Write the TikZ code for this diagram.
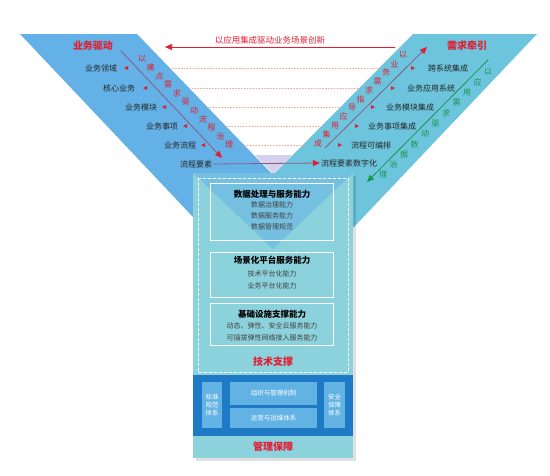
\documentclass[tikz,border=0pt]{standalone}
\usepackage{fontspec}
\setmainfont{Noto Sans CJK SC}
\usetikzlibrary{arrows.meta}
\definecolor{armL}{RGB}{99,177,230}
\definecolor{armR}{RGB}{108,196,221}
\definecolor{colT}{RGB}{140,210,220}
\definecolor{bandB}{RGB}{30,122,196}
\definecolor{boxB}{RGB}{98,178,228}
\definecolor{redT}{RGB}{226,30,50}
\definecolor{greenT}{RGB}{25,150,75}
\definecolor{mauve}{RGB}{140,90,130}
\definecolor{dotC}{RGB}{240,165,145}
\definecolor{lav}{RGB}{212,208,238}
\begin{document}
\begin{tikzpicture}[x=1pt,y=-1pt, line join=round, line cap=round,
    item/.style={font=\fontsize{8}{9}\selectfont, inner sep=1pt, text=black!85},
    head/.style={font=\fontsize{10}{11}\selectfont\bfseries, text=redT, inner sep=1pt},
    slant/.style={font=\fontsize{8}{9}\selectfont, inner sep=0pt},
    capbox/.style={draw=white, line width=.6pt, minimum width=123pt},
    title/.style={font=\fontsize{8.5}{9}\selectfont\bfseries, inner sep=1pt},
    sub/.style={font=\fontsize{7}{8}\selectfont, inner sep=1pt, text=black!75},
    wbox/.style={fill=boxB, text=white, font=\fontsize{6.5}{8}\selectfont, align=center, inner sep=0pt},
    tip/.style={-{Triangle[length=7pt,width=6pt,#1]}}]
\useasboundingbox (0,0) rectangle (550,475);
% the two arms
\fill[armL] (20,34) -- (137,34) -- (273,175) -- (273,217) -- (193,217) -- cycle;
\fill[armR] (413,34) -- (537,34) -- (353,228) -- (273,228) -- (273,175) -- cycle;
\fill[lav] (255,155) -- (292,155) -- (273,174) -- cycle;
\foreach \y in {68,88,107,126,145}
    \draw[dotC, dotted, line width=.9pt] ({137+(\y-34)*0.965},\y) -- ({413-(\y-34)*0.993},\y);
% column
\fill[black, opacity=.12] (196,176) rectangle (356,461);
\fill[colT] (193,173) rectangle (353,458);
\fill[armL, opacity=.55] (193,173) -- (353,173) -- (273,249) -- cycle;
\draw[white, line width=.8pt, dash pattern=on 3pt off 2pt] (198,178) rectangle (348,372);
\node[capbox, minimum height=57pt] (cap1) at (271.5,211.5) {};
\node[capbox, minimum height=45pt] (cap2) at (271.5,274.5) {};
\node[capbox, minimum height=42pt] (cap3) at (271.5,324) {};
\node[title] (t1) at (272,194) {数据处理与服务能力};
\node[sub] (s11) at (272,205) {数据治理能力};
\node[sub] (s12) at (272,216) {数据服务能力};
\node[sub] (s13) at (272,227) {数据管理规范};
\node[font=\fontsize{5}{5}\selectfont, text=black!50, inner sep=0pt] (s14) at (272,236) {……};
\node[title] (t2) at (272,260) {场景化平台服务能力};
\node[sub] (s21) at (272,274) {技术平台化能力};
\node[sub] (s22) at (272,286) {业务平台化能力};
\node[title] (t3) at (272,314) {基础设施支撑能力};
\node[sub] (s31) at (272,326) {动态、弹性、安全云服务能力};
\node[sub] (s32) at (272,338) {可插拔弹性网络接入服务能力};
\node[head] (tech) at (273,362) {技术支撑};
\fill[bandB] (193,375) rectangle (353,436);
\node[wbox, minimum width=20pt, minimum height=46pt] (std) at (212,405) {标准\\规范\\体系};
\node[wbox, minimum width=87pt, minimum height=23pt] (org) at (273.5,393.5) {组织与管理机制};
\node[wbox, minimum width=87pt, minimum height=20pt] (ops) at (273.5,418) {运营与运维体系};
\node[wbox, minimum width=21pt, minimum height=46pt] (sec) at (334.5,405) {安全\\保障\\体系};
\node[head] (mgmt) at (273,447) {管理保障};
% left arm
\node[head] (drive) at (93,46) {业务驱动};
\foreach \x/\y/\t/\m [count=\i] in {101/68/业务领域/126, 119/88/核心业务/145, 141/107/业务模块/164, 162/126/业务事项/185, 180/145/业务流程/203}{
    \node[item] (l\i) at (\x,\y) {\t};
    \fill[redT] (\m-2,\y) -- ++(4,-2) -- ++(0,4) -- cycle;
}
\node[item] (l6) at (196,164) {流程要素};
\foreach \c [count=\i from 0] in {以,痛,点,需,求,驱,动,流,程,治,理}
    \node[slant, text=redT] (pl\i) at ({142+8.7*\i},{59+8.6*\i}) {\c};
\coordinate (dl1) at (121,51); \coordinate (dl2) at (222,158);
\draw[mauve, line width=.8pt, tip=redT] (dl1) -- (dl2);
% right arm
\node[head] (pull) at (467,46) {需求牵引};
\foreach \x/\y/\t/\m [count=\i] in {448/68/跨系统集成/413, 431/88/业务应用系统/393, 410/107/业务模块集成/373, 392/126/业务事项集成/357, 371/145/流程可编排/340}{
    \node[item] (r\i) at (\x,\y) {\t};
    \fill[redT] (\m+2,\y) -- ++(-4,-2) -- ++(0,4) -- cycle;
}
\node[item] (r6) at (349,163) {流程要素数字化};
\foreach \c [count=\i from 0] in {以,业,务,需,求,指,导,应,用,集,成}
    \node[slant, text=redT] (pr\i) at ({403-8.5*\i},{55+8.8*\i}) {\c};
\coordinate (dr1) at (325,148); \coordinate (dr2) at (427,47);
\draw[mauve, line width=.8pt, tip=redT] (dr1) -- (dr2);
\foreach \c [count=\i from 0] in {以,应,用,需,求,驱,动,数,据,治,理}
    \node[slant, text=greenT] (pg\i) at ({488-10.5*\i},{72+10.3*\i}) {\c};
\coordinate (dg1) at (488,60); \coordinate (dg2) at (367,182);
\draw[greenT, line width=.8pt, tip=greenT] (dg1) -- (dg2);
% top and middle arrows
\node[font=\fontsize{8.5}{9}\selectfont, text=redT] (scene) at (270,40) {以应用集成驱动业务场景创新};
\coordinate (tr) at (395,47); \coordinate (tl) at (165,47);
\draw[redT, line width=.7pt, tip=redT] (tr) -- (tl);
\draw[mauve, line width=.8pt, tip=redT] (l6.east) -- (r6.west);
\end{tikzpicture}
\end{document}
